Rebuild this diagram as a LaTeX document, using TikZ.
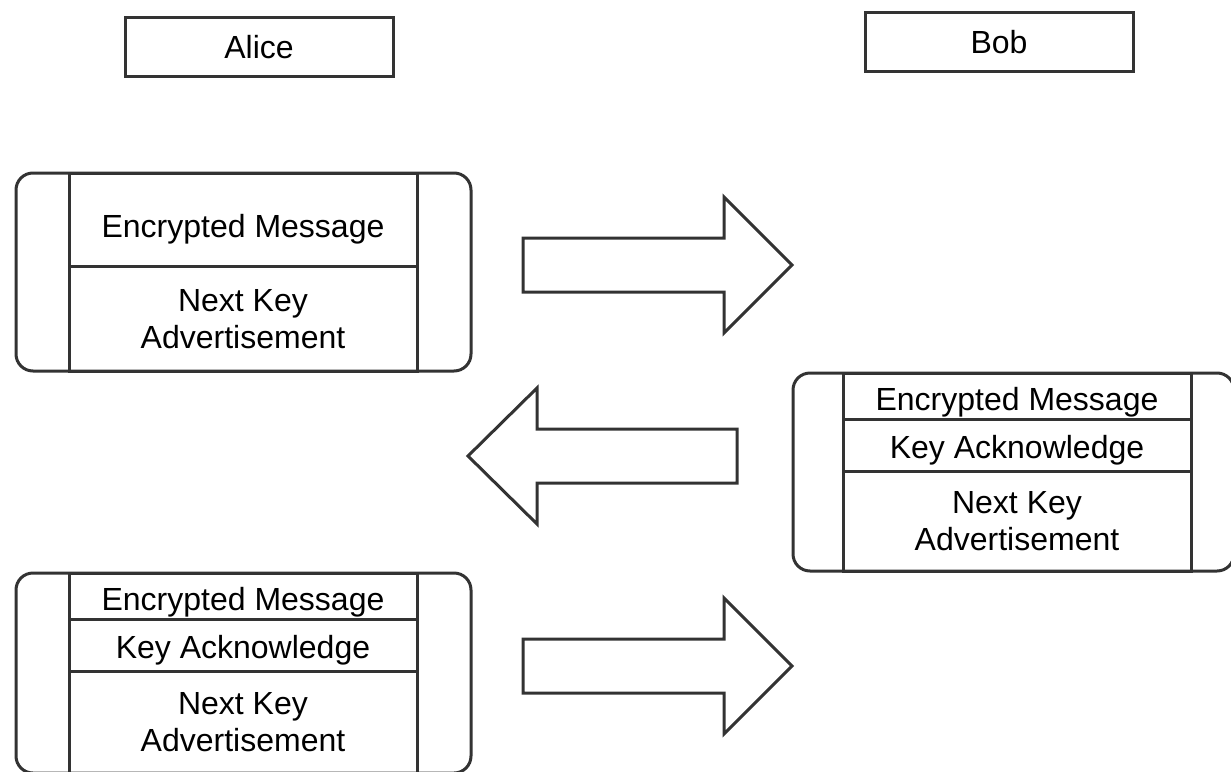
\documentclass[tikz,border=0pt]{standalone}
\usepackage{fontspec}
\setmainfont{Liberation Sans}
\usepackage{tikz}
\usetikzlibrary{positioning}

\definecolor{linegray}{HTML}{333333}

\tikzset{
  party/.style={draw=linegray,line width=3pt,inner sep=0pt,outer sep=0pt,minimum width=268pt,minimum height=59pt,text depth=0pt},
  frame/.style={draw=linegray,line width=3pt,rounded corners=17pt,inner sep=0pt,outer sep=0pt},
  cell/.style={draw=linegray,line width=3pt,inner sep=0pt,outer sep=0pt,minimum width=348pt,align=center,text depth=0pt},
  bigarrow/.style={draw=linegray,line width=3pt,line join=miter}
}

\begin{document}
\begin{tikzpicture}[x=1pt,y=-1pt,font=\fontsize{32}{37}\selectfont]
		\clip (0,0) rectangle (1231,771);
		\fill[white] (0,0) rectangle (1231,771);
		\node[party] (alice) at (259,46.5) {Alice};
		\node[party] (bob) at (999,41.5) {Bob};
		% first message
		\node[frame,minimum width=455pt,minimum height=198pt] (msg1) at (243.5,272) {};
		\node[cell,minimum height=93pt,text height=36pt,anchor=north] (em1) at (243,173) {Encrypted Message};
		\node[cell,minimum height=105pt,below=0pt of em1] (nk1) {Next Key\\Advertisement};
		\draw[bigarrow] (523,265) -- ++(0,-27) -- ++(201,0) -- ++(0,-41) -- ++(68,68) -- ++(-68,68) -- ++(0,-41) -- ++(-201,0) -- cycle;
		% reply
		\node[frame,minimum width=441pt,minimum height=198pt] (msg2) at (1013.5,472) {};
		\node[cell,minimum height=46pt,text height=29pt,anchor=north] (em2) at (1017,373) {Encrypted Message};
		\node[cell,minimum height=52pt,text height=27pt,below=0pt of em2] (ka2) {Key Acknowledge};
		\node[cell,minimum height=100pt,below=0pt of ka2] (nk2) {Next Key\\Advertisement};
		\draw[bigarrow] (737,456) -- ++(0,-27) -- ++(-200,0) -- ++(0,-41) -- ++(-69,68) -- ++(69,68) -- ++(0,-41) -- ++(200,0) -- cycle;
		% third message
		\node[frame,minimum width=455pt,minimum height=200pt] (msg3) at (243.5,673) {};
		\node[cell,minimum height=46pt,text height=29pt,anchor=north] (em3) at (243,573) {Encrypted Message};
		\node[cell,minimum height=52pt,text height=27pt,below=0pt of em3] (ka3) {Key Acknowledge};
		\node[cell,minimum height=102pt,below=0pt of ka3] (nk3) {Next Key\\Advertisement};
		\draw[bigarrow] (523,666) -- ++(0,-27) -- ++(201,0) -- ++(0,-41) -- ++(68,68) -- ++(-68,68) -- ++(0,-41) -- ++(-201,0) -- cycle;
	\end{tikzpicture}
\end{document}
